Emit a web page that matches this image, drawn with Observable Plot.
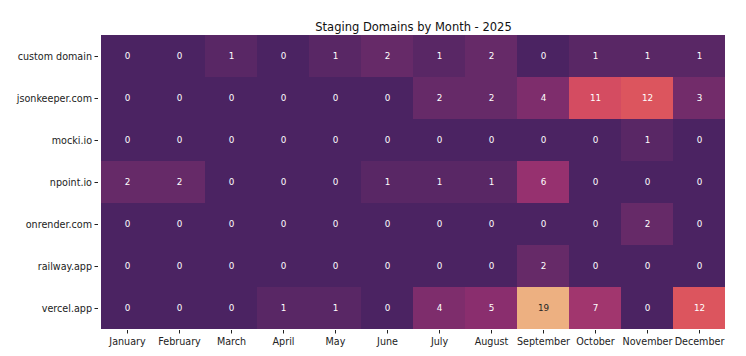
<!DOCTYPE html>
<html>
<head>
<meta charset="utf-8">
<script src="https://cdn.jsdelivr.net/npm/d3@7"></script>
<script src="https://cdn.jsdelivr.net/npm/@observablehq/plot@0.6"></script>
<style>
  html, body { margin: 0; padding: 0; background: #fff; }
  svg { display: block; }
</style>
</head>
<body>
<div id="chart"></div>
<script>
const months = ["January","February","March","April","May","June","July","August","September","October","November","December"];
const domains = ["custom domain","jsonkeeper.com","mocki.io","npoint.io","onrender.com","railway.app","vercel.app"];
const customDomain = [0,0,1,0,1,2,1,2,0,1,1,1];
const jsonkeeper   = [0,0,0,0,0,0,2,2,4,11,12,3];
const mocki        = [0,0,0,0,0,0,0,0,0,0,1,0];
const npoint       = [2,2,0,0,0,1,1,1,6,0,0,0];
const onrender     = [0,0,0,0,0,0,0,0,0,0,2,0];
const railway      = [0,0,0,0,0,0,0,0,2,0,0,0];
const vercel       = [0,0,0,1,1,0,4,5,19,7,0,12];
const title = "Staging Domains by Month - 2025";

const series = [customDomain, jsonkeeper, mocki, npoint, onrender, railway, vercel];
const cells = [];
domains.forEach((d, i) => months.forEach((m, j) => cells.push({domain: d, month: m, value: series[i][j]})));

// flare_r-like palette (dark purple -> coral -> light orange)
const stops = ["#4b2362","#652a68","#7b2d6c","#932f6f","#a8396e","#c5436a","#d84e5f","#e4655c","#e98264","#ec9c73","#edb081"];
const pos = d3.range(stops.length).map(i => i / (stops.length - 1));
const pal = d3.scaleLinear().domain(pos).range(stops).interpolate(d3.interpolateRgb).clamp(true);
const vmax = d3.max(cells, d => d.value);
const colorOf = v => pal(v / vmax);
function lum(c) {
  const r = d3.rgb(c);
  const f = x => { x /= 255; return x <= 0.03928 ? x / 12.92 : Math.pow((x + 0.055) / 1.055, 2.4); };
  return 0.2126 * f(r.r) + 0.7152 * f(r.g) + 0.0722 * f(r.b);
}

const chart = Plot.plot({
  width: 746,
  height: 356,
  marginLeft: 98,
  marginRight: 18,
  marginTop: 33,
  marginBottom: 26,
  style: { fontFamily: "DejaVu Sans, sans-serif", fontSize: "9.6px", color: "#222", background: "#fff" },
  x: { domain: months, padding: 0, label: null, tickSize: 3.5, tickPadding: 4 },
  y: { domain: domains, padding: 0, label: null, tickSize: 3.5, tickPadding: 3 },
  color: { type: "linear", domain: [0, vmax], interpolate: t => pal(t) },
  marks: [
    Plot.cell(cells, { x: "month", y: "domain", fill: "value", inset: 0 }),
    Plot.text(cells, {
      x: "month", y: "domain", text: d => String(d.value),
      fill: d => lum(colorOf(d.value)) > 0.408 ? "#262626" : "#ffffff",
      fontSize: 8.8
    }),
    Plot.text([title], { frameAnchor: "top", dy: -11, fontSize: 11.5, fill: "#111" })
  ]
});
chart.querySelectorAll('[aria-label="x-axis tick label"], [aria-label="y-axis tick label"]').forEach(g => g.setAttribute("fill", "#222"));
document.getElementById("chart").appendChild(chart);
</script>
</body>
</html>
